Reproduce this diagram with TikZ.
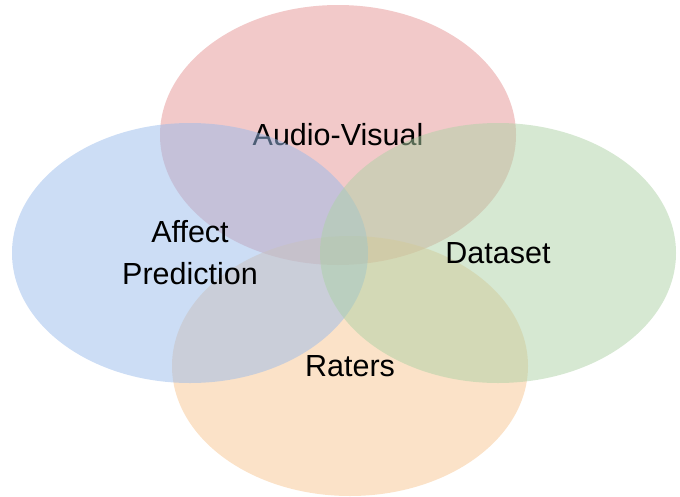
\documentclass[tikz,border=0pt]{standalone}
\usepackage{fontspec}
\setmainfont{Liberation Sans}
\usetikzlibrary{shapes.geometric}

\definecolor{avred}{HTML}{E59393}
\definecolor{apblue}{HTML}{99BBEB}
\definecolor{dsgreen}{HTML}{ADD1A5}
\definecolor{raorange}{HTML}{F7C591}

\tikzset{
  topic/.style={ellipse, minimum width=356pt, minimum height=260pt, inner sep=0pt,
    fill opacity=0.5, text opacity=1, align=center,
    font=\fontsize{30.5}{42}\selectfont}
}

\begin{document}
\begin{tikzpicture}[x=1pt,y=-1pt]
\useasboundingbox (0,0) rectangle (680,496);
% red and orange lie under blue and green
\node[topic,fill=avred] (av) at (338,135) {Audio-Visual};
\node[topic,fill=raorange] (ra) at (350,366) {Raters};
\node[topic,fill=apblue] (ap) at (190,253) {Affect\\Prediction};
\node[topic,fill=dsgreen] (ds) at (498,253) {Dataset};
\end{tikzpicture}
\end{document}
